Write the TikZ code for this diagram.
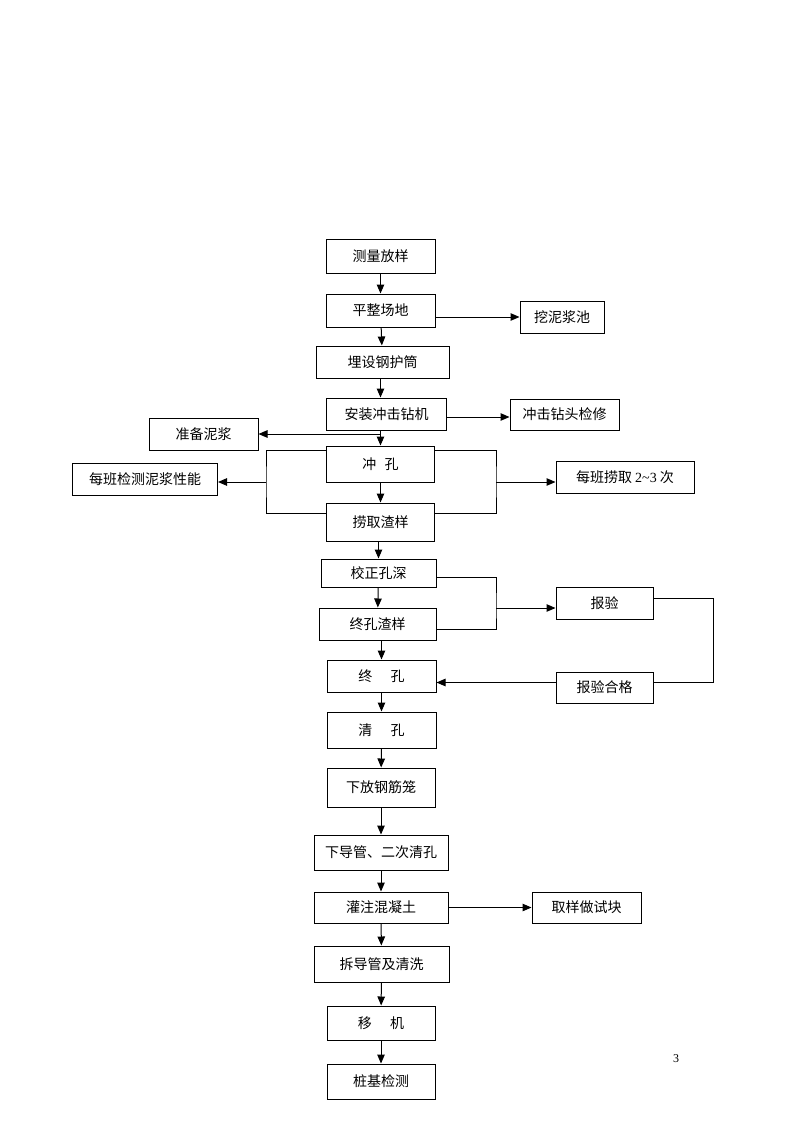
\documentclass[tikz,border=0pt]{standalone}
\usepackage{fontspec}
\setmainfont{Liberation Serif}
\newfontfamily\cjk{Noto Sans CJK SC}
\usetikzlibrary{arrows.meta}
\tikzset{
  box/.style={draw, rectangle, line width=1pt, inner sep=0pt, font=\cjk\fontsize{14}{16}\selectfont},
  arr/.style={line width=1pt, -{Triangle[length=9pt,width=7.5pt]}},
  link/.style={line width=1pt}
}
\begin{document}
\begin{tikzpicture}[x=1pt,y=-1pt]
    %\draw[very thin,color=gray] (0,0) grid[step=50] (800,1132);
    \fill[white] (0,0) rectangle (800,1132);
    \useasboundingbox (0,0) rectangle (800,1132);
    \node[box, minimum width=109pt, minimum height=34pt] (mark) at (380.5,256) {测量放样};
    \node[box, minimum width=109pt, minimum height=33pt] (level) at (380.5,310.5) {平整场地};
    \node[box, minimum width=84pt, minimum height=32pt] (pit) at (562,317) {挖泥浆池};
    \node[box, minimum width=133pt, minimum height=32pt] (casing) at (382.5,362) {埋设钢护筒};
    \node[box, minimum width=120pt, minimum height=32pt] (rig) at (386.5,414) {安装冲击钻机};
    \node[box, minimum width=109pt, minimum height=31pt] (repair) at (564.5,414.5) {冲击钻头检修};
    \node[box, minimum width=109pt, minimum height=32pt] (mud) at (203.5,434) {准备泥浆};
    \node[box, minimum width=108pt, minimum height=36pt] (drill) at (380.5,464) {冲\hspace{0.6em}孔};
    \node[box, minimum width=145pt, minimum height=32pt] (test) at (145,479) {每班检测泥浆性能};
    \node[box, minimum width=138pt, minimum height=32pt] (bail) at (625,477) {每班捞取 {\rmfamily 2\textasciitilde3} 次};
    \node[box, minimum width=108pt, minimum height=38pt] (slag) at (380.5,522) {捞取渣样};
    \node[box, minimum width=115pt, minimum height=28pt] (depth) at (378.5,573) {校正孔深};
    \node[box, minimum width=117pt, minimum height=32pt] (endslag) at (377.5,624) {终孔渣样};
    \node[box, minimum width=109pt, minimum height=32pt] (final) at (381.5,676) {终\hspace{1.3em}孔};
    \node[box, minimum width=109pt, minimum height=36pt] (clean) at (381.5,730) {清\hspace{1.3em}孔};
    \node[box, minimum width=97pt, minimum height=32pt] (report) at (604.5,603) {报验};
    \node[box, minimum width=97pt, minimum height=31pt] (pass) at (604.5,687.5) {报验合格};
    \node[box, minimum width=108pt, minimum height=39pt] (cage) at (381,787.5) {下放钢筋笼};
    \node[box, minimum width=134pt, minimum height=35pt] (pipe) at (381,852.5) {下导管、二次清孔};
    \node[box, minimum width=134pt, minimum height=31pt] (pour) at (381,907.5) {灌注混凝土};
    \node[box, minimum width=109pt, minimum height=31pt] (sample) at (586.5,907.5) {取样做试块};
    \node[box, minimum width=135pt, minimum height=36pt] (remove) at (381.5,964) {拆导管及清洗};
    \node[box, minimum width=108pt, minimum height=34pt] (move) at (381,1023) {移\hspace{1.3em}机};
    \node[box, minimum width=108pt, minimum height=35pt] (check) at (381,1081.5) {桩基检测};
    \node[font=\fontsize{12}{14}\selectfont] (pagenum) at (676,1059) {3};

    \draw[arr] (mark) -- (level);
    \draw[arr] (level) -- (casing);
    \draw[arr] (casing.south -| level.south) -- (rig.north -| level.south);
    \draw[arr] (rig.south -| drill.north) -- (drill.north);
    \draw[arr] (drill) -- (slag);
    \draw[arr] (slag.south -| depth.north) -- (depth.north);
    \draw[arr] (depth) -- (endslag);
    \draw[arr] (endslag.south -| final.north) -- (final.north);
    \draw[arr] (final) -- (clean);
    \draw[arr] (clean) -- (cage);
    \draw[arr] (cage) -- (pipe);
    \draw[arr] (pipe) -- (pour);
    \draw[arr] (pour) -- (remove);
    \draw[arr] (remove) -- (move);
    \draw[arr] (move) -- (check);

    \draw[arr] (level.east |- pit.west) -- (pit.west);
    \draw[arr] ([yshift=-3pt]rig.east) -- ([yshift=-3pt]rig.east -| repair.west);
    \draw[arr] (mud.east -| drill.north) -- (mud.east);
    \draw[arr] (pour) -- (sample);

    \coordinate (lbr) at (266,482);
    \coordinate (rbr) at (496,482);
    \draw[link] ([yshift=-5pt]drill.north west) -| (lbr) |- ([yshift=-11pt]slag.north west);
    \draw[link] ([yshift=-5pt]drill.north east) -| (rbr) |- ([yshift=-11pt]slag.north east);
    \draw[arr] (lbr) -- (lbr -| test.east);
    \draw[arr] (rbr) -- (rbr -| bail.west);

    \coordinate (mbr) at (496,608);
    \draw[link] ([yshift=-4pt]depth.east) -| (mbr) |- ([yshift=-5pt]endslag.east);
    \draw[arr] (mbr) -- (mbr -| report.west);
    \draw[link] ([yshift=5pt]report.east) -- ++(60,0) |- ([yshift=5pt]pass.east);
    \draw[arr] ([yshift=5pt]pass.west) -- ([yshift=5pt]pass.west -| final.east);
\end{tikzpicture}
\end{document}
